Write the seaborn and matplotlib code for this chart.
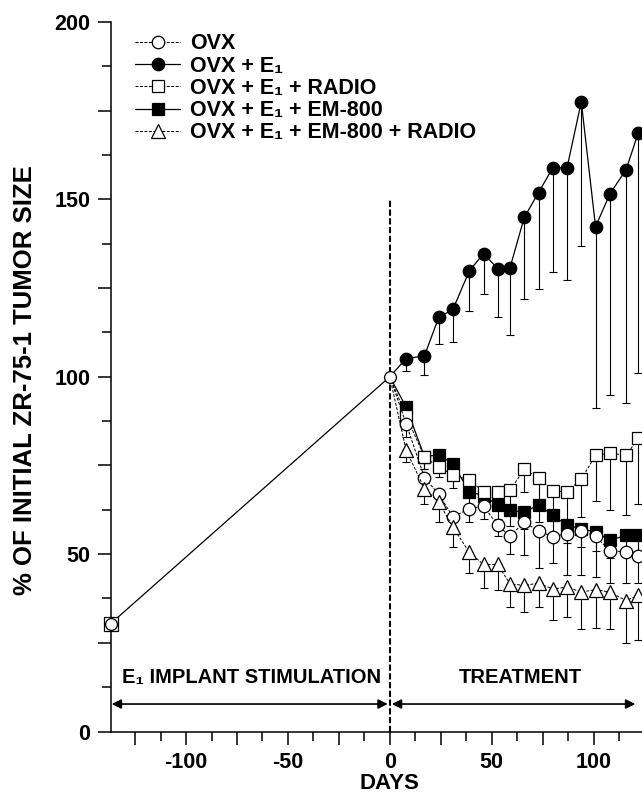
import numpy as np
import pandas as pd
import seaborn as sns
import matplotlib.pyplot as plt
from matplotlib import ticker
from matplotlib.lines import Line2D

sns.set_theme(style="ticks")
plt.rcParams['font.family'] = ['Liberation Sans', 'DejaVu Sans']
plt.rcParams['font.weight'] = 'bold'
plt.rcParams['axes.unicode_minus'] = False
plt.rcParams['axes.edgecolor'] = 'black'
plt.rcParams['xtick.color'] = 'black'
plt.rcParams['ytick.color'] = 'black'
plt.rcParams['text.color'] = 'black'
plt.rcParams['axes.labelcolor'] = 'black'

# E1 implant phase (all groups together)
start_days = [-137, 0]
start_size = [30.4, 100]

# treatment phase
days = [0, 8, 17, 24, 31, 39, 46, 53, 59, 66, 73, 80, 87, 94, 101, 108, 116, 122]

ovx = [100, 86.8, 71.6, 66.9, 60.5, 62.8, 63.6, 58.1, 55.1, 59.0, 56.5, 54.9, 55.8, 56.5, 55.1, 50.9, 50.7, 49.4]
ovx_low = [100, 83.0, 68.0, 63.0, 57.0, 59.0, 60.0, 55.0, 50.0, 49.8, 46.0, 47.4, 44.1, 44.1, 43.6, 42.0, 41.8, 41.8]

e1 = [100, 105.1, 105.9, 116.7, 119.0, 129.8, 134.7, 130.5, 130.7, 144.9, 151.9, 158.9, 158.9, 177.5, 142.3, 151.5, 158.4, 168.8]
e1_low = [100, 101.6, 100.6, 109.1, 109.9, 118.6, 123.2, 116.9, 111.9, 121.9, 124.6, 129.5, 127.2, 136.9, 91.1, 94.8, 92.5, 101.0]

radio = [100, 89.0, 77.4, 74.6, 72.3, 70.9, 67.6, 67.6, 68.0, 73.9, 71.6, 67.8, 67.6, 71.1, 77.9, 78.4, 77.9, 82.6]
radio_low = [100, 86.0, 74.0, 71.7, 68.7, 66.0, 64.0, 63.0, 63.0, 67.6, 64.0, 62.0, 60.0, 60.5, 65.0, 62.3, 61.0, 64.2]

em800 = [100, 91.5, 77.5, 78.0, 75.5, 67.6, 66.5, 63.8, 62.3, 61.9, 63.8, 61.0, 58.1, 57.2, 56.2, 53.9, 55.3, 55.3]
em800_low = [100, 89.0, 74.0, 74.5, 72.0, 64.0, 62.5, 60.0, 58.0, 57.0, 59.0, 56.0, 53.0, 52.0, 51.0, 49.0, 50.0, 50.0]

em800_radio = [100, 79.3, 68.5, 64.7, 57.6, 50.5, 47.1, 47.1, 41.6, 41.2, 41.8, 40.2, 40.7, 39.3, 40.0, 39.3, 36.9, 38.4]
em800_radio_low = [100, 76.0, 64.2, 59.0, 52.0, 44.6, 40.5, 40.0, 35.0, 33.6, 35.0, 31.3, 32.3, 29.0, 29.2, 29.0, 24.9, 25.8]

labels = ["OVX", "OVX + E\u2081", "OVX + E\u2081 + RADIO", "OVX + E\u2081 + EM-800", "OVX + E\u2081 + EM-800 + RADIO"]
values = [ovx, e1, radio, em800, em800_radio]
lows = [ovx_low, e1_low, radio_low, em800_low, em800_radio_low]

dash = (0, (3, 1.6))
styles = {
    labels[0]: dict(marker='o', mfc='white', ls=dash, lw=0.7, ms=9, z=4),
    labels[1]: dict(marker='o', mfc='black', ls='-', lw=0.9, ms=9, z=6),
    labels[2]: dict(marker='s', mfc='white', ls=dash, lw=0.7, ms=8.5, z=3),
    labels[3]: dict(marker='s', mfc='black', ls='-', lw=0.9, ms=8.5, z=2),
    labels[4]: dict(marker='^', mfc='white', ls=dash, lw=0.7, ms=9.5, z=5),
}

fig = plt.figure(figsize=(6.42, 7.96), dpi=100)
ax = fig.add_axes([0.1724, 0.081, 0.8276, 0.8914])

for name, vals, low in zip(labels, values, lows):
    st = styles[name]
    df = pd.DataFrame({"day": days, "size": vals, "low": low})
    err = df["size"] - df["low"]
    ax.errorbar(df["day"][1:], df["size"][1:], yerr=[err[1:], np.zeros(len(df) - 1)],
                fmt='none', ecolor='black', elinewidth=0.8, capsize=3, capthick=0.8,
                zorder=st['z'])
    sns.lineplot(data=df, x="day", y="size", ax=ax, color='black', linestyle=st['ls'],
                 linewidth=st['lw'], marker=st['marker'], markersize=st['ms'],
                 markerfacecolor=st['mfc'], markeredgecolor='black', markeredgewidth=0.9,
                 markevery=list(range(1, len(days))), errorbar=None, sort=False,
                 zorder=st['z'] + 0.5)

# shared stimulation phase
ax.plot(start_days, start_size, color='black', lw=0.9, zorder=7)
ax.plot(start_days[:1], start_size[:1], marker='s', ms=10, mfc='white', mec='black',
        mew=0.9, ls='none', zorder=7.2, clip_on=False)
ax.plot(start_days, start_size, marker='o', ms=8.5, mfc='white', mec='black',
        mew=0.9, ls='none', zorder=7.5, clip_on=False)

# start of treatment
ax.plot([0, 0], [0, 150], color='black', lw=1.5, ls=(0, (3, 1.2)), zorder=1)

arrow = dict(arrowstyle='<|-|>', color='black', lw=1.2, mutation_scale=14, shrinkA=0, shrinkB=0)
ax.annotate('', xy=(-136.5, 7.75), xytext=(-1, 7.75), arrowprops=arrow)
ax.annotate('', xy=(1, 7.75), xytext=(120.5, 7.75), arrowprops=arrow)
ax.text(-68, 13.7, "E\u2081 IMPLANT STIMULATION", ha='center', va='baseline',
        fontsize=14.5, fontweight='bold')
ax.text(64, 13.7, "TREATMENT", ha='center', va='baseline',
        fontsize=14.5, fontweight='bold')

ax.set_xlim(-137, 123.8)
ax.set_ylim(0, 200)
sns.despine(ax=ax)
ax.spines['left'].set_linewidth(1.1)
ax.spines['bottom'].set_linewidth(1.1)

fifty = ticker.FuncFormatter(lambda v, p: f"{v:.0f}" if v % 50 == 0 else "")
for axis in (ax.xaxis, ax.yaxis):
    axis.set_major_locator(ticker.MultipleLocator(25))
    axis.set_minor_locator(ticker.MultipleLocator(12.5))
    axis.set_major_formatter(fifty)
ax.tick_params(which='major', length=9.5, width=1.1, labelsize=15.5, pad=5)
ax.tick_params(which='minor', length=6.5, width=1.1)

ax.set_xlabel("DAYS", fontsize=16, fontweight='bold')
ax.xaxis.set_label_coords(0.524, -0.058)
ax.set_ylabel("% OF INITIAL ZR-75-1 TUMOR SIZE", fontsize=18.5, fontweight='bold')
ax.yaxis.set_label_coords(-0.138, 0.495)

handles = [Line2D([], [], color='black', linestyle=styles[n]['ls'], linewidth=styles[n]['lw'],
                  marker=styles[n]['marker'], markersize=styles[n]['ms'],
                  markerfacecolor=styles[n]['mfc'], markeredgecolor='black',
                  markeredgewidth=0.9) for n in labels]
ax.legend(handles, labels, loc='upper left', bbox_to_anchor=(0.0457, 0.984), frameon=False,
          handlelength=2.1, handletextpad=0.45, labelspacing=0.06, borderpad=0,
          borderaxespad=0, prop={'weight': 'bold', 'size': 15.5})

fig.savefig("out.png", dpi=100)
